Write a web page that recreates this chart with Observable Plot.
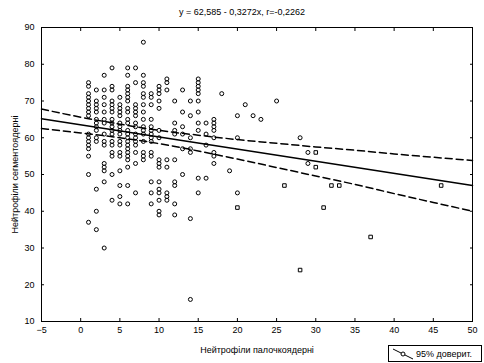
<!DOCTYPE html>
<html><head><meta charset="utf-8">
<script src="https://cdn.jsdelivr.net/npm/d3@7"></script>
<script src="https://cdn.jsdelivr.net/npm/@observablehq/plot@0.6"></script>
<style>
body{margin:0;background:#fff;}
#wrap{position:relative;width:484px;height:363px;font-family:"Liberation Sans",Arial,sans-serif;color:#000;}
#title{position:absolute;left:0;width:484px;top:7px;text-align:center;font-size:9px;}
#legend{position:absolute;left:388px;top:345px;width:94px;height:17px;border:1px solid #000;box-sizing:border-box;font-size:9px;display:flex;align-items:center;background:#fff;}
#legend svg{margin-left:3px;margin-right:2px;}
</style></head><body><div id="wrap"><div id="title"></div></div>
<script>
const titleText = "y = 62,585 - 0,3272x, r=-0,2262";
const xLabel = "Нейтрофіли палочкоядерні";
const yLabel = "Нейтрофіли сегментоядерні";
const legendText = "95% доверит.";
const xTicks = [-5,0,5,10,15,20,25,30,35,40,45,50];
const yTicks = [10,20,30,40,50,60,70,80,90];

// circle markers: x value per column, list of y values
const colX = [1,2,3,4,5,6,7,8,9,10,11,12,13,14,15,16,17,18,19,20,21,22,23,25,28,29];
const colY = [
  [75,74,72,71,70,69,68,67,66,61,60,59,58,57,55,50,37],
  [73,70,69,68,67,65,64,63,62,60,59,46,40,35],
  [77,73,71,69,67,65,64,61,59,58,53,52,51,48,30],
  [79,74,73,70,69,68,67,65,64,63,62,61,59,58,56,55,50,43],
  [71,69,68,67,66,64,63,62,61,59,58,56,55,51,47,44,42],
  [79,77,74,73,72,71,70,68,67,65,64,62,61,60,59,58,57,56,55,54,52,47,42],
  [79,75,69,68,67,66,64,63,61,60,59,58,56,53,45],
  [86,77,75,74,72,71,69,67,65,63,62,61,59,56,55,54],
  [72,71,69,65,63,62,61,60,59,56,55,48,45,42],
  [74,73,72,70,68,62,60,54,53,52,48,46,45,43,40,39],
  [76,75,73,54,52,45,44,43],
  [70,64,62,61,54,48,47,42,39],
  [73,67,63,61,57,50],
  [70,66,60,57,56,38,16],
  [76,75,74,73,72,70,67,64,62,49,45],
  [64,61,58,49],
  [65,64,63,62,60,56,55,53],
  [72],
  [51],
  [66,60,45],
  [69],
  [66],
  [65],
  [70],
  [60],
  [56,53]
];
// square markers
const sqX = [20,26,28,30,30,31,32,33,37,46];
const sqY = [41,47,24,56,52,41,47,47,33,47];

// regression line and 95% band
const fitX = [-5,50];
const fitY = [65.2,47.0];
const bandX = [-5,0,5,10,15,20,25,30,35,40,45,50];
const bandUpper = [67.8,65.6,63.7,62.0,60.7,59.5,58.5,57.5,56.6,55.6,54.7,53.8];
const bandLower = [62.5,61.3,60.0,58.4,56.4,54.2,51.9,49.6,47.3,44.8,42.4,40.0];

const circles = colX.flatMap((x,i) => colY[i].map(y => ({x, y})));
const squares = sqX.map((x,i) => ({x, y: sqY[i]}));
const fit = fitX.map((x,i) => ({x, y: fitY[i]}));
const band = bandX.map((x,i) => ({x, upper: bandUpper[i], lower: bandLower[i]}));

document.getElementById("title").textContent = titleText;

const chart = Plot.plot({
  width: 484, height: 363,
  marginLeft: 41, marginRight: 12, marginTop: 27, marginBottom: 42,
  style: {fontSize: "9px", fontFamily: "Liberation Sans, Arial, sans-serif", color: "#000", background: "#fff"},
  x: {domain: [-5,50]},
  y: {domain: [10,90]},
  marks: [
    Plot.frame({stroke: "#000"}),
    Plot.axisX(xTicks, {anchor: "bottom", tickSize: -3, tickPadding: 8, label: xLabel, labelAnchor: "center", labelOffset: 31, labelArrow: "none"}),
    Plot.axisX(xTicks, {anchor: "top", tickSize: -3, tickFormat: () => "", label: null}),
    Plot.axisY(yTicks, {anchor: "left", tickSize: -3, tickPadding: 10, label: yLabel, labelAnchor: "center", labelOffset: 30, labelArrow: "none"}),
    Plot.axisY(yTicks, {anchor: "right", tickSize: -3, tickFormat: () => "", label: null}),
    Plot.line(band, {x: "x", y: "upper", stroke: "#000", strokeDasharray: "7,4", curve: "natural"}),
    Plot.line(band, {x: "x", y: "lower", stroke: "#000", strokeDasharray: "7,4", curve: "natural"}),
    Plot.line(fit, {x: "x", y: "y", stroke: "#000"}),
    Plot.dot(circles, {x: "x", y: "y", r: 2, stroke: "#000", strokeWidth: 1, fill: "none"}),
    Plot.dot(squares, {x: "x", y: "y", r: 2, symbol: "square", stroke: "#000", strokeWidth: 1, fill: "none"})
  ]
});
const wrap = document.getElementById("wrap");
wrap.appendChild(chart);
const leg = document.createElement("div");
leg.id = "legend";
leg.innerHTML = '<svg width="22" height="13"><line x1="1" y1="2" x2="21" y2="12" stroke="#000"/><circle cx="11" cy="7" r="2" fill="#fff" stroke="#000"/></svg><span></span>';
leg.querySelector("span").textContent = legendText;
wrap.appendChild(leg);
</script></body></html>
